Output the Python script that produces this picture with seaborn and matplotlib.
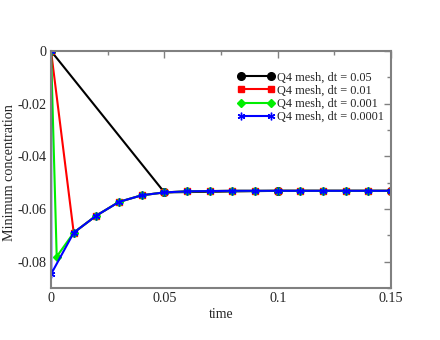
import matplotlib
matplotlib.use("Agg")
import matplotlib.pyplot as plt
import seaborn as sns
from matplotlib.ticker import MultipleLocator

# values
t_coarse = [0.0, 0.05, 0.1, 0.15]
c_coarse = [0.0, -0.0537, -0.0531, -0.0531]

t_steps = [0.01, 0.02, 0.03, 0.04, 0.05, 0.06, 0.07, 0.08, 0.09, 0.1,
           0.11, 0.12, 0.13, 0.14, 0.15]
c_steps = [-0.069, -0.0625, -0.0573, -0.0548, -0.0537, -0.0533, -0.0532, -0.0531,
           -0.0531, -0.0531, -0.0531, -0.0531, -0.0531, -0.0531, -0.0531]

t_dt01 = [0.0] + t_steps
c_dt01 = [0.0] + c_steps
t_dt001 = [0.0, 0.0025] + t_steps
c_dt001 = [0.0, -0.0781] + c_steps
t_dt0001 = [0.0, 0.0001] + t_steps
c_dt0001 = [0.0, -0.0846] + c_steps

labels = ["Q4 mesh, dt = 0.05", "Q4 mesh, dt = 0.01",
          "Q4 mesh, dt = 0.001", "Q4 mesh, dt = 0.0001"]
x_ticks = [0, 0.05, 0.1, 0.15]
x_ticklabels = ["0", "0.05", "0.1", "0.15"]
y_ticks = [0, -0.02, -0.04, -0.06, -0.08]
y_ticklabels = ["0", "-0.02", "-0.04", "-0.06", "-0.08"]

sns.set_style("white")
plt.rcParams["font.family"] = ["Liberation Serif", "DejaVu Serif"]

fig = plt.figure(figsize=(4.4, 3.4), dpi=100)
ax = fig.add_axes([0.116, 0.153, 0.773, 0.697])

series = [
    (t_coarse, c_coarse, "black", "o", 5.5),
    (t_dt01, c_dt01, "red", "s", 4.5),
    (t_dt001, c_dt001, "#00ee00", "D", 3.8),
    (t_dt0001, c_dt0001, "blue", (6, 2, 0), 5.5),
]
for (t, c, col, mk, ms), lab in zip(series, labels):
    sns.lineplot(x=t, y=c, ax=ax, color=col, marker=mk, markersize=ms,
                 markeredgecolor=col, markeredgewidth=1, linewidth=1.5,
                 label=lab, estimator=None, sort=False)

ax.set_xlim(0, 0.15)
ax.set_ylim(-0.09, 0)
ax.set_xticks(x_ticks)
ax.set_xticklabels(x_ticklabels)
ax.set_yticks(y_ticks)
ax.set_yticklabels(y_ticklabels)
ax.xaxis.set_minor_locator(MultipleLocator(0.025))
ax.yaxis.set_minor_locator(MultipleLocator(0.01))
ax.tick_params(which="both", direction="in", top=True, right=True,
               color="#808080", labelsize=10.2, pad=3)
ax.tick_params(which="major", length=5, width=1)
ax.tick_params(which="minor", length=3, width=1)
for s in ax.spines.values():
    s.set_color("#808080")
    s.set_linewidth(1.5)

ax.set_xlabel("time", fontsize=10, labelpad=2)
ax.set_ylabel("Minimum concentration", fontsize=10.2)
ax.yaxis.set_label_coords(-0.104, 0.485)

ax.legend(loc="upper right", bbox_to_anchor=(1.0, 0.945), frameon=False,
          fontsize=8.8, numpoints=2, handlelength=3.0, handletextpad=0.2,
          labelspacing=0.1, borderaxespad=0.2, markerscale=1.0)

fig.savefig("out.png", dpi=100)
